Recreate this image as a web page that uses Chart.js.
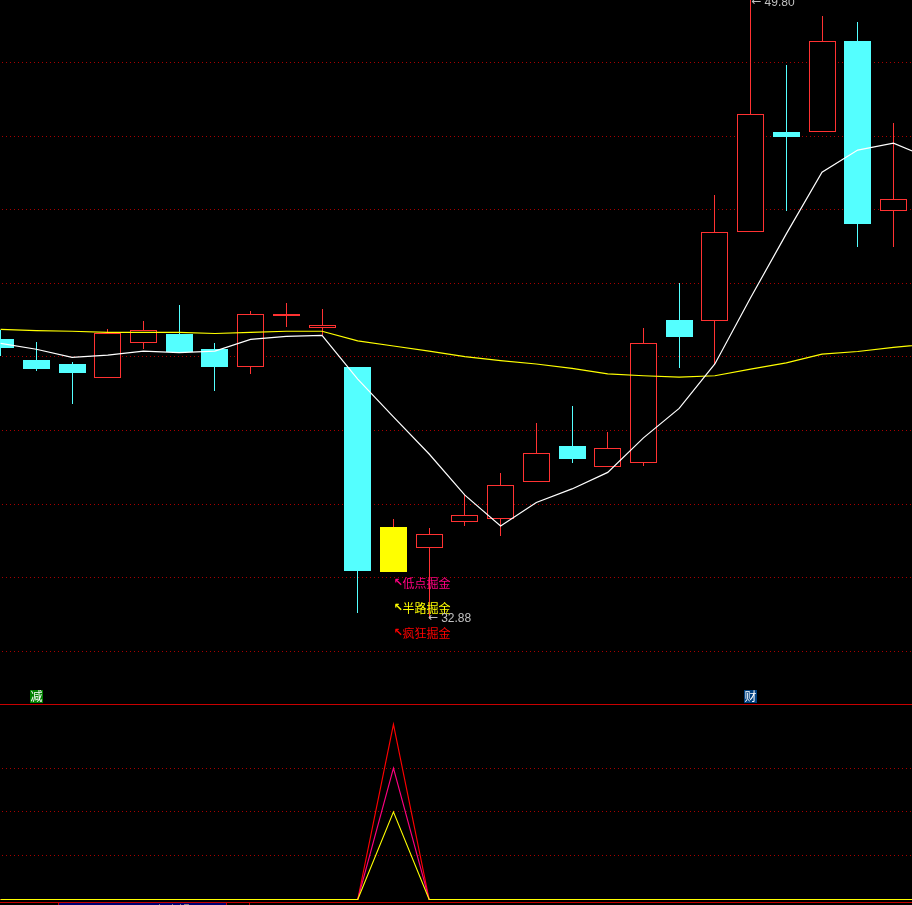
<!DOCTYPE html>
<html>
<head>
<meta charset="utf-8">
<style>
  html, body { margin: 0; padding: 0; background: #000; overflow: hidden; }
  #stage { position: relative; width: 912px; height: 905px; background: #000; overflow: hidden; }
  canvas { position: absolute; left: 0; display: block; }
  #priceChart { top: 0; }
  #signalChart { top: 704px; }
  .rule { position: absolute; left: 0; width: 912px; height: 1px; background: #c80000; }
  .tick { position: absolute; top: 903px; width: 1px; height: 2px; background: #c80000; }
  .bit { position: absolute; top: 904px; height: 1px; background: #808080; }
  #tab { position: absolute; left: 59px; top: 903px; width: 167px; height: 2px; background: #000070; }
</style>
</head>
<body>
<div id="stage">
  <canvas id="priceChart" width="912" height="704"></canvas>
  <canvas id="signalChart" width="912" height="201"></canvas>
  <div class="rule" style="top:704px"></div>
  <div class="rule" style="top:902px"></div>
  <div id="tab"></div>
  <div class="tick" style="left:58px"></div>
  <div class="tick" style="left:226px"></div>
  <div class="tick" style="left:249px"></div>
  <div class="bit" style="left:159px;width:1px"></div>
  <div class="bit" style="left:172px;width:1px"></div>
  <div class="bit" style="left:180px;width:1px"></div>
  <div class="bit" style="left:184px;width:5px"></div>
</div>
<script src="https://cdn.jsdelivr.net/npm/chart.js@4/dist/chart.umd.min.js"></script>
<script>
const candleIndex = [0,1,2,3,4,5,6,7,8,9,10,11,12,13,14,15,16,17,18,19,20,21,22,23,24,25,26];

const opens  = [40.49,39.92,39.81,39.42,40.39,40.63,40.22,39.72,41.11,40.80,39.73,35.37,34.81,35.50,35.58,36.61,37.58,37.02,37.12,41.01,40.99,43.39,46.12,46.11,48.60,43.96];
const closes = [40.24,39.67,39.56,40.64,40.73,40.13,39.73,41.16,41.16,40.86,34.18,34.15,35.18,35.69,36.51,37.38,37.23,37.52,40.37,40.55,43.40,46.60,45.99,48.59,43.63,44.29];
const highs  = [40.73,40.41,39.86,40.76,40.98,41.41,40.38,41.25,41.47,41.31,39.73,35.59,35.35,36.24,36.84,38.20,38.67,37.96,40.79,42.01,44.41,49.80,47.95,49.28,49.12,46.37];
const lows   = [40.03,39.62,38.73,39.42,40.22,40.13,39.07,39.55,40.82,40.60,33.03,34.15,32.88,35.41,35.14,36.61,37.12,37.02,37.04,39.71,39.81,43.39,43.98,46.11,43.00,43.00];

const whiteLine  = [40.37,40.21,39.99,40.05,40.16,40.12,40.16,40.48,40.56,40.59,39.40,38.37,37.36,36.24,35.40,36.04,36.41,36.86,37.80,38.60,39.81,41.61,43.35,45.03,45.63,45.82,45.41];
const yellowLine = [40.75,40.72,40.70,40.67,40.67,40.67,40.64,40.67,40.70,40.70,40.44,40.30,40.16,40.01,39.90,39.81,39.69,39.54,39.49,39.45,39.49,39.67,39.84,40.08,40.15,40.26,40.35];

const priceGrid  = [32,34,36,38,40,42,44,46,48];
const signalGrid = [10,20,30];

const crazySignal  = [0,0,0,0,0,0,0,0,0,0,0,40,0,0,0,0,0,0,0,0,0,0,0,0,0,0,0];
const lowSignal    = [0,0,0,0,0,0,0,0,0,0,0,30,0,0,0,0,0,0,0,0,0,0,0,0,0,0,0];
const halfSignal   = [0,0,0,0,0,0,0,0,0,0,0,20,0,0,0,0,0,0,0,0,0,0,0,0,0,0,0];

const markerIndex  = 11;
const markerTexts  = ['低点掘金','半路掘金','疯狂掘金'];
const markerPrices = [33.85,33.17,32.49];
const markerColors = ['#ff0080','#ffff00','#ff0000'];

const badgeTexts   = ['减','财'];
const badgeIndex   = [1,21];
const badgeColors  = ['#008000','#004080'];

const highlightCandle = 11;
const UP = '#ff3232', DOWN = '#54ffff', MARK = '#ffff00', GRID = '#a80000';

const xMin = -0.0168, xMax = 25.52;

function candleColor(i) {
  if (i === highlightCandle) return MARK;
  return closes[i] >= opens[i] ? UP : DOWN;
}

// snap bars to whole pixels so wicks and outlines stay one pixel sharp
const snapBars = {
  id: 'snapBars',
  afterDatasetsUpdate(chart) {
    chart.data.datasets.forEach((ds, i) => {
      if (ds.type !== 'bar') return;
      chart.getDatasetMeta(i).data.forEach(el => {
        el.x = Math.floor(el.x) + 0.5;
        el.y = Math.round(el.y);
        el.base = Math.round(el.base);
      });
    });
  }
};

function drawExtreme(ctx, value, px, py) {
  ctx.font = '12px "DejaVu Sans"';
  ctx.fillText('←', px, py - 1);
  ctx.font = '12px "Liberation Sans"';
  ctx.fillText(value.toFixed(2), px + 13, py);
}

// ── Texts next to the candles ──
const priceTexts = {
  id: 'priceTexts',
  afterDatasetsDraw(chart) {
    const { ctx, scales: { x, y } } = chart;
    ctx.save();
    ctx.textBaseline = 'middle';
    ctx.textAlign = 'left';

    markerTexts.forEach((t, i) => {
      const px = x.getPixelForValue(markerIndex);
      const py = y.getPixelForValue(markerPrices[i]);
      ctx.fillStyle = markerColors[i];
      ctx.font = 'bold 11px "DejaVu Sans"';
      ctx.fillText('↖', px, py);
      ctx.font = '12px "Noto Sans CJK SC"';
      ctx.fillText(t, px + 9, py);
    });

    ctx.fillStyle = '#c0c0c0';
    const hi = highs.indexOf(Math.max(...highs));
    const lo = lows.indexOf(Math.min(...lows));
    drawExtreme(ctx, highs[hi], x.getPixelForValue(hi) + 1, y.getPixelForValue(highs[hi]) + 6);
    drawExtreme(ctx, lows[lo], x.getPixelForValue(lo) - 1, y.getPixelForValue(lows[lo]));

    badgeTexts.forEach((t, i) => {
      const px = Math.floor(x.getPixelForValue(badgeIndex[i]));
      ctx.fillStyle = badgeColors[i];
      ctx.fillRect(px - 6, 690, 13, 13);
      ctx.fillStyle = '#fff';
      ctx.font = '12px "Noto Sans CJK SC"';
      ctx.textAlign = 'center';
      ctx.fillText(t, px + 0.5, 696.5);
      ctx.textAlign = 'left';
    });
    ctx.restore();
  }
};

function baseOptions(yMin, yMax, gridValues) {
  return {
    responsive: false,
    animation: false,
    layout: { padding: 0 },
    plugins: { legend: { display: false }, tooltip: { enabled: false } },
    scales: {
      x: { type: 'linear', min: xMin, max: xMax, offset: false, display: false },
      y: {
        min: yMin, max: yMax,
        afterBuildTicks: scale => { scale.ticks = gridValues.map(value => ({ value })); },
        ticks: { display: false },
        grid: { color: GRID, drawTicks: false, lineWidth: 1 },
        border: { display: false, dash: [1, 3], dashOffset: 2 }
      }
    }
  };
}

// ── Candles + two moving averages ──
function initPriceChart() {
  new Chart(document.getElementById('priceChart').getContext('2d'), {
    type: 'bar',
    data: {
      labels: candleIndex,
      datasets: [
        {
          type: 'line', data: yellowLine, borderColor: '#ffff00', borderWidth: 1.2,
          pointRadius: 0, tension: 0, order: 1
        },
        {
          type: 'line', data: whiteLine, borderColor: '#ffffff', borderWidth: 1.2,
          pointRadius: 0, tension: 0, order: 0
        },
        {
          type: 'bar', data: opens.map((o, i) => [o, closes[i]]),
          barThickness: 27, grouped: false, borderWidth: 1, borderSkipped: false, inflateAmount: 0,
          borderColor: opens.map((o, i) => candleColor(i)),
          backgroundColor: opens.map((o, i) => closes[i] >= o ? '#000000' : candleColor(i)),
          order: 2
        },
        {
          type: 'bar', data: lows.map((l, i) => [l, highs[i]]),
          barThickness: 1, grouped: false, borderWidth: 0, inflateAmount: 0,
          backgroundColor: lows.map((l, i) => i === highlightCandle ? UP : candleColor(i)),
          order: 3
        }
      ]
    },
    options: baseOptions(30.558, 49.714, priceGrid),
    plugins: [snapBars, priceTexts]
  });
}

// ── Lower signal pane ──
function initSignalChart() {
  const lineSet = (data, color, order) => ({
    data, borderColor: color, borderWidth: 1.15, pointRadius: 0, tension: 0, order
  });
  new Chart(document.getElementById('signalChart').getContext('2d'), {
    type: 'line',
    data: {
      labels: candleIndex,
      datasets: [
        lineSet(crazySignal, '#ff0000', 2),
        lineSet(lowSignal, '#ff0080', 1),
        lineSet(halfSignal, '#ffff00', 0)
      ]
    },
    options: baseOptions(-1.255, 44.635, signalGrid)
  });
}

document.addEventListener('DOMContentLoaded', () => {
  initPriceChart();
  initSignalChart();
});
</script>
</body>
</html>
